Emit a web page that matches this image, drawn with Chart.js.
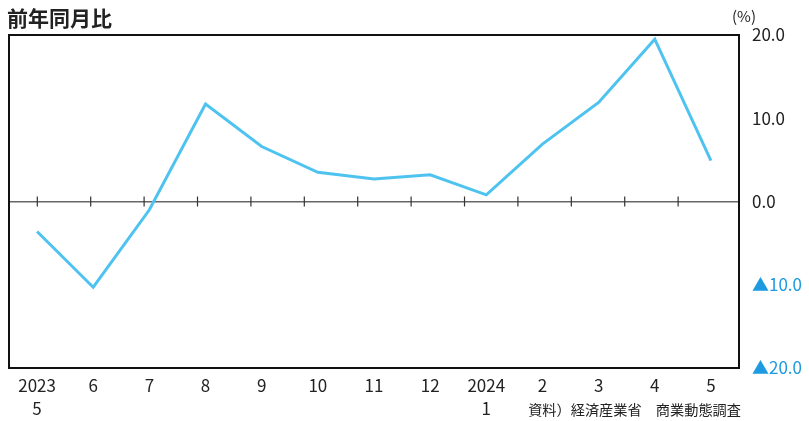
<!DOCTYPE html>
<html lang="ja">
<head>
<meta charset="utf-8">
<script src="https://cdn.jsdelivr.net/npm/chart.js@4.4.1/dist/chart.umd.min.js"></script>
<style>
  html, body { margin: 0; padding: 0; background: #fff; }
  canvas { display: block; }
</style>
</head>
<body>
<canvas id="chart" width="809" height="421"></canvas>
<script>
// 前年同月比 (%), 2023/5 - 2024/5
const months = [['2023', '5'], '6', '7', '8', '9', '10', '11', '12', ['2024', '1'], '2', '3', '4', '5'];
const yoy = [-3.6, -10.3, -1.0, 11.7, 6.6, 3.5, 2.7, 3.2, 0.8, 6.9, 11.9, 19.5, 4.9];
const yTicks = [-20, -10, 0, 10, 20];

const titleText = '前年同月比';
const unitText = '(%)';
const sourceText = '資料）経済産業省　商業動態調査';

const FONT = '"Noto Sans CJK JP", "Noto Sans", sans-serif';
const LINE_BLUE = '#4fc3f0';
const NEG_BLUE = '#1e9be0';

// frame, tick marks on the zero line, title and notes
const decor = {
  id: 'decor',
  beforeDatasetsDraw(chart) {
    const { ctx, scales } = chart;
    const y0 = scales.y.getPixelForValue(0);
    ctx.save();
    ctx.strokeStyle = '#333';
    ctx.lineWidth = 1.2;
    for (let i = 0; i < months.length; i++) {
      const x = scales.xt.getPixelForValue(i);
      ctx.beginPath();
      ctx.moveTo(x, y0 - 5);
      ctx.lineTo(x, y0 + 5);
      ctx.stroke();
    }
    ctx.restore();
  },
  afterDraw(chart) {
    const { ctx, chartArea: a } = chart;
    ctx.save();
    ctx.strokeStyle = '#111';
    ctx.lineWidth = 2;
    ctx.strokeRect(a.left, a.top, a.right - a.left, a.bottom - a.top);

    ctx.fillStyle = '#222';
    ctx.textBaseline = 'middle';
    ctx.textAlign = 'left';
    ctx.font = 'bold 21px ' + FONT;
    ctx.fillText(titleText, 7, 18);

    ctx.font = '15px ' + FONT;
    ctx.textAlign = 'center';
    ctx.fillText(unitText, 744, 16);

    ctx.font = '14.2px ' + FONT;
    ctx.textAlign = 'right';
    ctx.fillText(sourceText, 741, 410);
    ctx.restore();
  }
};

new Chart(document.getElementById('chart'), {
  type: 'line',
  data: {
    labels: months,
    datasets: [{
      data: yoy,
      borderColor: LINE_BLUE,
      borderWidth: 3,
      pointRadius: 0,
      tension: 0,
      fill: false
    }]
  },
  options: {
    responsive: false,
    animation: false,
    layout: { padding: { top: 35, left: 9, right: 0, bottom: 0 } },
    plugins: {
      legend: { display: false },
      tooltip: { enabled: false },
      title: { display: false }
    },
    scales: {
      x: {
        type: 'category',
        offset: true,
        grid: { display: false, drawTicks: false },
        border: { display: false },
        ticks: {
          color: '#222',
          padding: 6,
          maxRotation: 0,
          autoSkip: false,
          font: { family: FONT, size: 17, lineHeight: 1.35 }
        },
        afterFit(s) { s.height = 53; }
      },
      xt: {
        type: 'linear',
        position: 'bottom',
        display: false,
        min: -0.53,
        max: 13.14
      },
      y: {
        position: 'right',
        min: -20,
        max: 20,
        afterBuildTicks(s) { s.ticks = yTicks.map(v => ({ value: v })); },
        grid: {
          drawTicks: false,
          color: c => (c.tick && c.tick.value === 0 ? '#666' : 'rgba(0,0,0,0)'),
          lineWidth: 1.5
        },
        border: { display: false },
        ticks: {
          padding: 13,
          color: c => (c.tick.value < 0 ? NEG_BLUE : '#222'),
          font: { family: FONT, size: 17 },
          callback: v => (v < 0 ? '▲' + Math.abs(v).toFixed(1) : v.toFixed(1))
        },
        afterFit(s) { s.width = 70; }
      }
    }
  },
  plugins: [decor]
});
</script>
</body>
</html>
